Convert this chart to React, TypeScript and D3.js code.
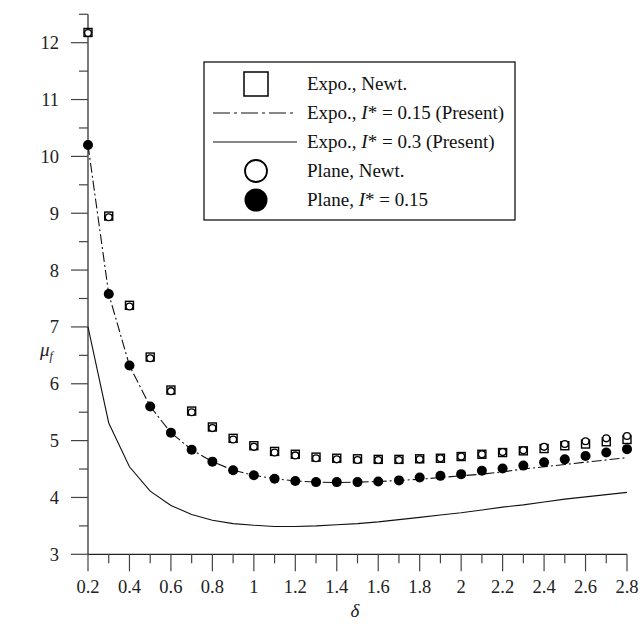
import React from 'react';
import * as d3 from 'd3';

// delta values shared by all series
const deltas = [0.2, 0.3, 0.4, 0.5, 0.6, 0.7, 0.8, 0.9, 1.0, 1.1, 1.2, 1.3, 1.4, 1.5, 1.6, 1.7, 1.8, 1.9, 2.0, 2.1, 2.2, 2.3, 2.4, 2.5, 2.6, 2.7, 2.8];

// Expo., Newt. (open squares)
const expoNewt = [12.18, 8.95, 7.38, 6.47, 5.89, 5.52, 5.24, 5.04, 4.91, 4.81, 4.76, 4.71, 4.69, 4.68, 4.67, 4.67, 4.68, 4.69, 4.72, 4.76, 4.79, 4.82, 4.86, 4.91, 4.94, 4.98, 5.02];
// Plane, Newt. (open circles)
const planeNewt = [12.17, 8.93, 7.36, 6.45, 5.87, 5.50, 5.22, 5.02, 4.89, 4.79, 4.74, 4.69, 4.67, 4.66, 4.66, 4.66, 4.67, 4.69, 4.72, 4.76, 4.80, 4.83, 4.89, 4.94, 4.99, 5.04, 5.08];
// Plane, I* = 0.15 (filled circles)
const planeI015 = [10.2, 7.58, 6.32, 5.6, 5.14, 4.84, 4.63, 4.48, 4.39, 4.33, 4.29, 4.27, 4.27, 4.27, 4.28, 4.30, 4.35, 4.38, 4.41, 4.47, 4.51, 4.56, 4.62, 4.67, 4.73, 4.79, 4.85];
// Expo., I* = 0.15 (Present), dash-dot line
const expoI015 = [10.2, 7.58, 6.32, 5.6, 5.14, 4.84, 4.63, 4.48, 4.39, 4.33, 4.29, 4.27, 4.26, 4.27, 4.28, 4.30, 4.32, 4.35, 4.38, 4.41, 4.45, 4.50, 4.54, 4.58, 4.62, 4.66, 4.70];
// Expo., I* = 0.3 (Present), solid line
const expoI03 = [7.0, 5.31, 4.54, 4.11, 3.86, 3.70, 3.60, 3.54, 3.51, 3.49, 3.49, 3.50, 3.52, 3.54, 3.57, 3.61, 3.65, 3.69, 3.73, 3.78, 3.83, 3.87, 3.92, 3.97, 4.01, 4.05, 4.09];

const xMajor = [0.2, 0.4, 0.6, 0.8, 1, 1.2, 1.4, 1.6, 1.8, 2, 2.2, 2.4, 2.6, 2.8];
const xMinor = [0.3, 0.5, 0.7, 0.9, 1.1, 1.3, 1.5, 1.7, 1.9, 2.1, 2.3, 2.5, 2.7];
const yMajor = [3, 4, 5, 6, 7, 8, 9, 10, 11, 12];
const yMinor = [3.5, 4.5, 5.5, 6.5, 7.5, 8.5, 9.5, 10.5, 11.5, 12.5];

const W = 642;
const H = 626;
const font = "'Liberation Serif', 'Times New Roman', serif";
const dashDot = '10,3,2,3';

export default function App() {
  const x = d3.scaleLinear().domain([0.2, 2.8]).range([88, 627]);
  const y = d3.scaleLinear().domain([3, 12]).range([554.3, 42.7]);
  const yTop = y(12.5);

  const line = d3.line<number>()
    .x((_, i) => x(deltas[i]))
    .y(d => y(d));

  const axisColor = '#222';
  const tickColor = '#444';
  const txt = { fontFamily: font };

  // legend rows
  const rowY = [84, 113, 142, 171, 200];

  return (
    <svg width={W} height={H} style={{ position: 'absolute', left: 0, top: 0, background: '#fff', fontFamily: font }}>
      {/* axes */}
      <line x1={x(0.2)} x2={x(0.2)} y1={yTop} y2={y(3)} stroke={axisColor} strokeWidth={1.2} />
      <line x1={x(0.2)} x2={x(2.8)} y1={y(3)} y2={y(3)} stroke={axisColor} strokeWidth={1.2} />
      {yMajor.map(v => (
        <g key={'ym' + v}>
          <line x1={x(0.2) - 17} x2={x(0.2)} y1={y(v)} y2={y(v)} stroke={tickColor} strokeWidth={1.2} />
          <text style={txt} x={59} y={y(v)} dy="0.35em" textAnchor="end" fontSize={18.5} fill="#222">{v}</text>
        </g>
      ))}
      {yMinor.map(v => (
        <line key={'yn' + v} x1={x(0.2) - 9} x2={x(0.2)} y1={y(v)} y2={y(v)} stroke={tickColor} strokeWidth={1.2} />
      ))}
      {xMajor.map(v => (
        <g key={'xm' + v}>
          <line x1={x(v)} x2={x(v)} y1={y(3)} y2={y(3) + 17} stroke={tickColor} strokeWidth={1.2} />
          <text style={txt} x={x(v)} y={593} textAnchor="middle" fontSize={18.5} fill="#222">{v}</text>
        </g>
      ))}
      {xMinor.map(v => (
        <line key={'xn' + v} x1={x(v)} x2={x(v)} y1={y(3)} y2={y(3) + 9} stroke={tickColor} strokeWidth={1.2} />
      ))}

      {/* axis titles */}
      <text style={txt} x={40} y={356} fontSize={19} fontStyle="italic" fill="#222">μ<tspan fontSize={12} dy={4}>f</tspan></text>
      <text style={txt} x={355} y={617} fontSize={19} fontStyle="italic" textAnchor="middle" fill="#222">δ</text>

      {/* lines */}
      <path d={line(expoI03) || ''} fill="none" stroke="#111" strokeWidth={1.1} />
      <path d={line(expoI015) || ''} fill="none" stroke="#111" strokeWidth={1.1} strokeDasharray={dashDot} />

      {/* markers */}
      {expoNewt.map((v, i) => (
        <rect key={'sq' + i} x={x(deltas[i]) - 4} y={y(v) - 4} width={8} height={8} fill="#fff" stroke="#000" strokeWidth={1.4} />
      ))}
      {planeNewt.map((v, i) => (
        <circle key={'oc' + i} cx={x(deltas[i])} cy={y(v)} r={3.4} fill="#fff" stroke="#000" strokeWidth={1.3} />
      ))}
      {planeI015.map((v, i) => (
        <circle key={'fc' + i} cx={x(deltas[i])} cy={y(v)} r={5} fill="#000" />
      ))}

      {/* legend */}
      <rect x={204} y={62} width={311} height={158} fill="#fff" stroke="#000" strokeWidth={1.2} />
      <rect x={244} y={rowY[0] - 12} width={24} height={24} fill="#fff" stroke="#000" strokeWidth={1.5} />
      <line x1={213} x2={297} y1={rowY[1]} y2={rowY[1]} stroke="#111" strokeWidth={1.1} strokeDasharray="17,4,3,4" />
      <line x1={213} x2={297} y1={rowY[2]} y2={rowY[2]} stroke="#111" strokeWidth={1.1} />
      <circle cx={256} cy={rowY[3]} r={11} fill="#fff" stroke="#000" strokeWidth={1.8} />
      <circle cx={256} cy={rowY[4]} r={11.5} fill="#000" />
      <g fontSize={19} fill="#111" style={txt}>
        <text x={307} y={rowY[0] + 6}>Expo., Newt.</text>
        <text x={307} y={rowY[1] + 6}>Expo., <tspan fontStyle="italic">I</tspan>* = 0.15 (Present)</text>
        <text x={307} y={rowY[2] + 6}>Expo., <tspan fontStyle="italic">I</tspan>* = 0.3 (Present)</text>
        <text x={307} y={rowY[3] + 6}>Plane, Newt.</text>
        <text x={307} y={rowY[4] + 6}>Plane, <tspan fontStyle="italic">I</tspan>* = 0.15</text>
      </g>
    </svg>
  );
}
